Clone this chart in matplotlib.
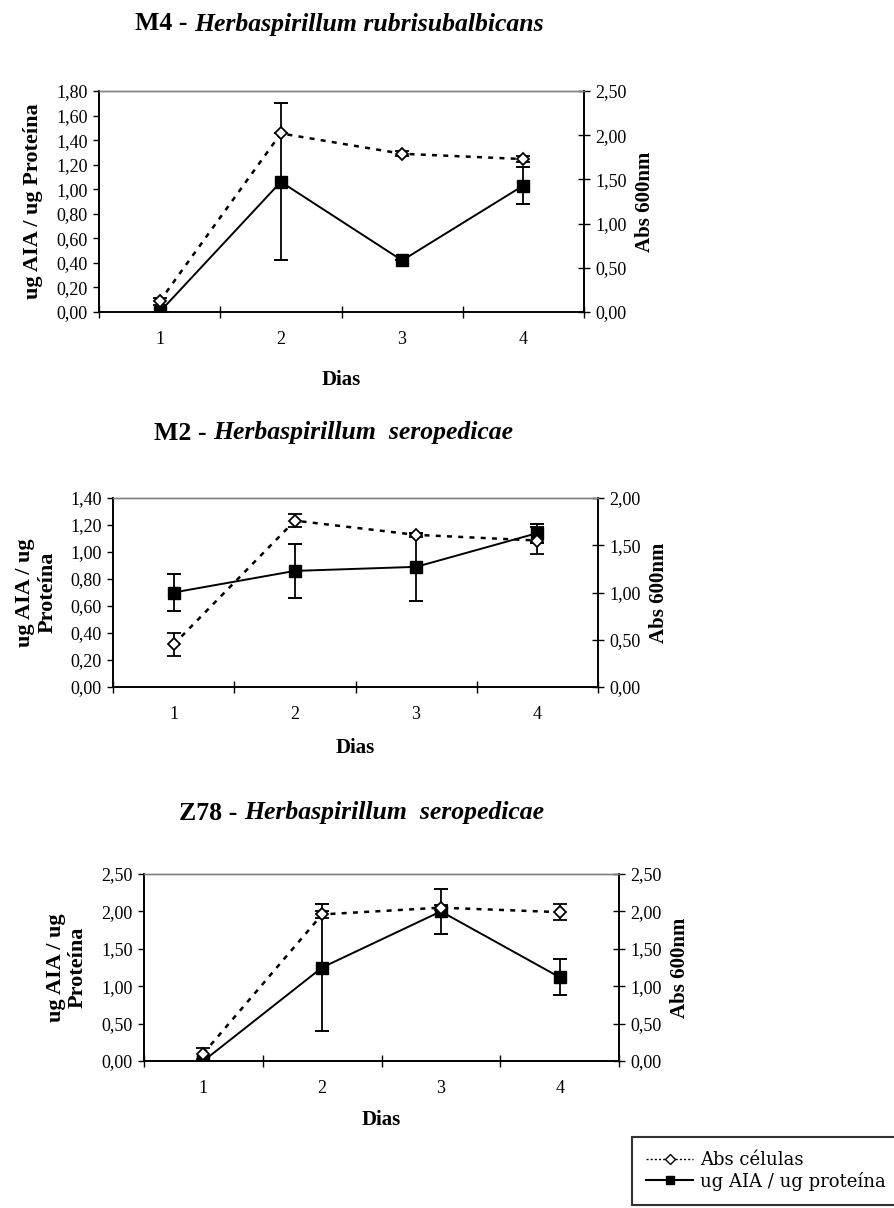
import matplotlib.pyplot as plt
from matplotlib.lines import Line2D
from matplotlib.ticker import FuncFormatter, FixedLocator

plt.rcParams['font.family'] = ['Liberation Serif', 'DejaVu Serif']

dias = [1, 2, 3, 4]

# M4 - Herbaspirillum rubrisubalbicans
m4_aia = [0.00, 1.06, 0.42, 1.03]
m4_aia_err = [0.00, 0.64, 0.00, 0.15]
m4_abs = [0.12, 2.02, 1.79, 1.73]
m4_abs_err = [0.04, 0.00, 0.03, 0.03]

# M2 - Herbaspirillum seropedicae
m2_aia = [0.70, 0.86, 0.89, 1.14]
m2_aia_err = [0.14, 0.20, 0.25, 0.07]
m2_abs = [0.45, 1.76, 1.61, 1.55]
m2_abs_err = [0.12, 0.07, 0.02, 0.14]

# Z78 - Herbaspirillum seropedicae
z78_aia = [0.00, 1.25, 2.00, 1.12]
z78_aia_err = [0.00, 0.85, 0.30, 0.24]
z78_abs = [0.10, 1.96, 2.05, 1.99]
z78_abs_err = [0.07, 0.05, 0.03, 0.11]

W, H = 894, 1208
fig = plt.figure(figsize=(W / 100, H / 100), dpi=100)


def comma(v, p):
    return f"{v:.2f}".replace('.', ',')


def box(l, r, t, b):
    return [l / W, 1 - b / H, (r - l) / W, (b - t) / H]


def panel(rect, aia, aia_err, ab, ab_err, lmax, lstep, rmax, rstep,
          ylabel, ylab_x, prefix, species, split_x, title_y, dias_off):
    ax = fig.add_axes(box(*rect))
    ax2 = ax.twinx()

    ax.errorbar(dias, aia, yerr=aia_err, color='black', lw=1.4,
                marker='s', ms=8.5, mfc='black', mec='black',
                capsize=5, capthick=1.4, elinewidth=1.3, zorder=3)
    ax2.errorbar(dias, ab, yerr=ab_err, color='black', lw=1.8,
                 ls=(0, (2, 2.5)), marker='D', ms=6, mfc='white',
                 mec='black', mew=1.3, capsize=5, capthick=1.3,
                 elinewidth=1.3, zorder=3)

    ax.set_xlim(0.5, 4.5)
    ax.set_ylim(0, lmax)
    ax2.set_ylim(0, rmax)
    n = int(round(lmax / lstep))
    ax.yaxis.set_major_locator(FixedLocator([i * lstep for i in range(n + 1)]))
    n2 = int(round(rmax / rstep))
    ax2.yaxis.set_major_locator(FixedLocator([i * rstep for i in range(n2 + 1)]))
    ax.yaxis.set_major_formatter(FuncFormatter(comma))
    ax2.yaxis.set_major_formatter(FuncFormatter(comma))

    ax.set_xticks(dias)
    ax.set_xticks([0.5, 1.5, 2.5, 3.5, 4.5], minor=True)
    ax.tick_params(axis='x', which='major', length=0, pad=14, labelsize=13)
    ax.tick_params(axis='x', which='minor', direction='inout', length=9, width=1)
    ax.tick_params(axis='y', direction='out', length=4, width=1, pad=4, labelsize=13)
    ax2.tick_params(axis='y', direction='inout', length=8, width=1, pad=4, labelsize=13)

    for a in (ax, ax2):
        a.spines['top'].set_color('#808080')
        a.spines['top'].set_linewidth(1)
        for s in ('left', 'right', 'bottom'):
            a.spines[s].set_linewidth(1.2)

    ax.set_ylabel(ylabel, fontsize=16, fontweight='bold', linespacing=1.15)
    ax.yaxis.set_label_coords(ylab_x, 0.5)
    ax2.set_ylabel('Abs 600nm', fontsize=15, fontweight='bold', labelpad=6)
    ax.set_xlabel('Dias', fontsize=15, fontweight='bold')
    ax.xaxis.set_label_coords(0.5, dias_off)

    fig.text(split_x / W, 1 - title_y / H, prefix, ha='right', va='center',
             fontsize=18.5, fontweight='bold')
    fig.text(split_x / W, 1 - title_y / H, species, ha='left', va='center',
             fontsize=18.5, fontweight='bold', style='italic')
    return ax


panel((99, 584, 91, 312), m4_aia, m4_aia_err, m4_abs, m4_abs_err,
      1.80, 0.20, 2.50, 0.50, 'ug AIA / ug Proteína', -0.115,
      'M4 - ', 'Herbaspirillum rubrisubalbicans', 194, 24, -0.262)
panel((113, 598, 498, 687), m2_aia, m2_aia_err, m2_abs, m2_abs_err,
      1.40, 0.20, 2.00, 0.50, 'ug AIA / ug\nProteína', -0.115,
      'M2 - ', 'Herbaspirillum  seropedicae', 213, 433, -0.27)
panel((144, 619, 874, 1061), z78_aia, z78_aia_err, z78_abs, z78_abs_err,
      2.50, 0.50, 2.50, 0.50, 'ug AIA / ug\nProteína', -0.118,
      'Z78 - ', 'Herbaspirillum  seropedicae', 244, 813, -0.262)

handles = [
    Line2D([], [], color='black', lw=1, ls=(0, (1.5, 1.5)), marker='D', ms=5,
           mfc='white', mec='black', mew=1),
    Line2D([], [], color='black', lw=1.5, marker='s', ms=6, mfc='black',
           mec='black'),
]
leg = fig.legend(handles, ['Abs células', 'ug AIA / ug proteína'],
                 loc='upper left', bbox_to_anchor=(632 / W, 1 - 1137 / H),
                 prop={'family': 'DejaVu Serif', 'size': 13},
                 frameon=True, fancybox=False, handlelength=2.6,
                 handletextpad=0.35, borderpad=0.8, labelspacing=0.12,
                 borderaxespad=0)
leg.get_frame().set_edgecolor('black')
leg.get_frame().set_linewidth(1.5)

fig.savefig('out.png', dpi=100)
